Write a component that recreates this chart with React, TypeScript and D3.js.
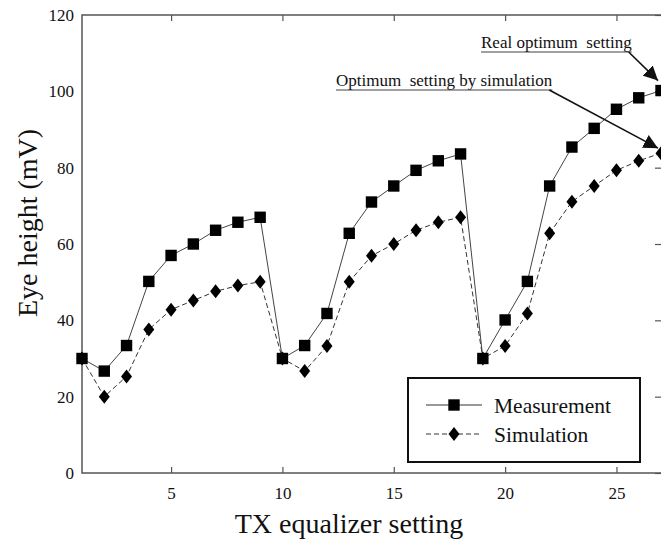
import { useEffect, useRef } from 'react';
import * as d3 from 'd3';

const settings = d3.range(1, 28);
const measurement = [30, 26.7, 33.4, 50.2, 57, 60, 63.6, 65.7, 67, 30, 33.4, 41.8, 62.8, 71, 75.2, 79.3, 81.8, 83.6, 30, 40.1, 50.2, 75.2, 85.4, 90.3, 95.3, 98.3, 100.2];
const simulation = [30, 20, 25.3, 37.6, 42.8, 45.2, 47.6, 49.1, 50.1, 30, 26.7, 33.3, 50.1, 56.9, 60, 63.6, 65.7, 67, 30, 33.3, 41.8, 62.8, 71.1, 75.2, 79.3, 81.8, 83.8];
const xTicks = [5, 10, 15, 20, 25];
const yTicks = [0, 20, 40, 60, 80, 100, 120];

export default function App() {
  const svgRef = useRef<SVGSVGElement>(null);

  useEffect(() => {
    if (!svgRef.current) return;
    document.body.style.margin = '0';

    const svg = d3.select(svgRef.current);
    svg.selectAll('*').remove();

    const width = 661;
    const height = 541;
    const margin = { top: 15, right: 0, bottom: 68, left: 82 };
    const font = '"Liberation Serif", "Times New Roman", serif';
    const axisColor = '#555';

    svg.attr('width', width).attr('height', height);

    const x = d3.scaleLinear().domain([1, 27]).range([margin.left, width - margin.right]);
    const y = d3.scaleLinear().domain([0, 120]).range([height - margin.bottom, margin.top]);

    // frame
    svg
      .append('rect')
      .attr('x', margin.left)
      .attr('y', margin.top)
      .attr('width', width - margin.right - margin.left + 1)
      .attr('height', y(0) - margin.top)
      .attr('fill', 'none')
      .attr('stroke', axisColor)
      .attr('stroke-width', 1.5);

    const styleAxis = (g: any) => {
      g.select('.domain').remove();
      g.selectAll('line').attr('stroke', axisColor).attr('stroke-width', 1.2);
      g.selectAll('text')
        .attr('fill', '#111')
        .style('font-family', font)
        .style('font-size', '17px');
    };

    // bottom axis, ticks pointing inward
    svg
      .append('g')
      .attr('transform', `translate(0,${y(0)})`)
      .call(d3.axisBottom(x).tickValues(xTicks).tickSizeInner(-6).tickSizeOuter(0).tickPadding(14))
      .call(styleAxis);

    // top axis ticks
    svg
      .append('g')
      .attr('transform', `translate(0,${margin.top})`)
      .call(d3.axisTop(x).tickValues(xTicks).tickSizeInner(-6).tickSizeOuter(0).tickFormat(() => ''))
      .call(styleAxis);

    // left axis labels
    svg
      .append('g')
      .attr('transform', `translate(${margin.left},0)`)
      .call(d3.axisLeft(y).tickValues(yTicks).tickSize(0).tickPadding(8))
      .call(styleAxis);

    // right axis ticks
    svg
      .append('g')
      .attr('transform', `translate(${width - margin.right},0)`)
      .call(d3.axisRight(y).tickValues(yTicks).tickSizeInner(-6).tickSizeOuter(0).tickFormat(() => ''))
      .call(styleAxis);

    // axis titles
    svg
      .append('text')
      .attr('x', 349)
      .attr('y', 533)
      .attr('text-anchor', 'middle')
      .style('font-family', font)
      .style('font-size', '28px')
      .attr('fill', '#111')
      .text('TX equalizer setting');

    svg
      .append('text')
      .attr('transform', `translate(37,223) rotate(-90)`)
      .attr('text-anchor', 'middle')
      .style('font-family', font)
      .style('font-size', '28px')
      .attr('fill', '#111')
      .text('Eye height (mV)');

    const plot = svg.append('g');

    const line = d3
      .line<number>()
      .x((d, i) => x(settings[i]))
      .y((d) => y(d));

    plot
      .append('path')
      .datum(simulation)
      .attr('fill', 'none')
      .attr('stroke', '#333')
      .attr('stroke-width', 1)
      .attr('stroke-dasharray', '5,3')
      .attr('d', line);

    plot
      .append('path')
      .datum(measurement)
      .attr('fill', 'none')
      .attr('stroke', '#444')
      .attr('stroke-width', 1)
      .attr('d', line);

    const square = d3.symbol().type(d3.symbolSquare).size(130);
    const diamond = 'M0,-7L5.5,0L0,7L-5.5,0Z';

    plot
      .selectAll('.sim')
      .data(simulation)
      .enter()
      .append('path')
      .attr('class', 'sim')
      .attr('d', diamond)
      .attr('transform', (d, i) => `translate(${x(settings[i])},${y(d)})`)
      .attr('fill', '#000');

    plot
      .selectAll('.meas')
      .data(measurement)
      .enter()
      .append('path')
      .attr('class', 'meas')
      .attr('d', square as any)
      .attr('transform', (d, i) => `translate(${x(settings[i])},${y(d)})`)
      .attr('fill', '#000');

    // annotations
    svg
      .append('defs')
      .append('marker')
      .attr('id', 'arrow')
      .attr('viewBox', '0 0 10 10')
      .attr('refX', 10)
      .attr('refY', 5)
      .attr('markerWidth', 9)
      .attr('markerHeight', 9)
      .attr('orient', 'auto')
      .append('path')
      .attr('d', 'M0,0L10,5L0,10Z')
      .attr('fill', '#111');

    const annotations = [
      { text: 'Real optimum  setting', x0: 481, y0: 52, idx: 26, series: measurement, dy: -10 },
      { text: 'Optimum  setting by simulation', x0: 336, y0: 90, idx: 26, series: simulation, dy: -5 },
    ];

    annotations.forEach((a) => {
      const t = svg
        .append('text')
        .attr('x', a.x0)
        .attr('y', a.y0 - 4)
        .style('font-family', font)
        .style('font-size', '17px')
        .style('white-space', 'pre')
        .attr('fill', '#111')
        .text(a.text);
      const w = (t.node() as SVGTextElement).getComputedTextLength();
      svg
        .append('line')
        .attr('x1', a.x0)
        .attr('x2', a.x0 + w)
        .attr('y1', a.y0)
        .attr('y2', a.y0)
        .attr('stroke', '#444')
        .attr('stroke-width', 1.2);
      svg
        .append('line')
        .attr('x1', a.x0 + w - 3)
        .attr('y1', a.y0)
        .attr('x2', x(settings[a.idx]) - 3)
        .attr('y2', y(a.series[a.idx]) + a.dy)
        .attr('stroke', '#111')
        .attr('stroke-width', 1.6)
        .attr('marker-end', 'url(#arrow)');
    });

    // legend
    const lg = svg.append('g').attr('transform', 'translate(408,378)');
    lg.append('rect')
      .attr('width', 232)
      .attr('height', 84)
      .attr('fill', '#fff')
      .attr('stroke', '#111')
      .attr('stroke-width', 2);

    const items = [
      { label: 'Measurement', dash: null, mark: 'square' },
      { label: 'Simulation', dash: '5,3', mark: 'diamond' },
    ];
    items.forEach((it, i) => {
      const yy = 27 + i * 29;
      lg.append('line')
        .attr('x1', 18)
        .attr('x2', 74)
        .attr('y1', yy)
        .attr('y2', yy)
        .attr('stroke', '#333')
        .attr('stroke-width', 1)
        .attr('stroke-dasharray', it.dash);
      lg.append('path')
        .attr('d', it.mark === 'square' ? (square as any)() : diamond)
        .attr('transform', `translate(46,${yy})`)
        .attr('fill', '#000');
      lg.append('text')
        .attr('x', 86)
        .attr('y', yy)
        .attr('dy', '0.35em')
        .style('font-family', font)
        .style('font-size', '21.5px')
        .attr('fill', '#111')
        .text(it.label);
    });
  }, []);

  return <svg ref={svgRef} style={{ display: 'block' }} />;
}
